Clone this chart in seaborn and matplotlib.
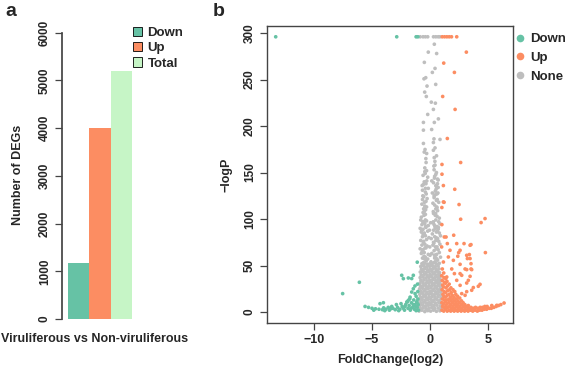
import numpy as np
import pandas as pd
import matplotlib
matplotlib.use("Agg")
import matplotlib.pyplot as plt
import seaborn as sns
from matplotlib.patches import Patch
from matplotlib.lines import Line2D

sns.set_theme(style="white")
plt.rcParams['font.family'] = ['Liberation Sans', 'DejaVu Sans']
plt.rcParams['font.weight'] = 'bold'

# ---------------- Panel a data ----------------
bar_groups = ["Down", "Up", "Total"]
bar_values = [1180, 4010, 5190]
bar_colors = ["#66C2A5", "#FC8D62", "#C6F5C6"]
a_yticks = [0, 1000, 2000, 3000, 4000, 5000, 6000]

# ---------------- Panel b data ----------------
# Down (green)
down_x = [-13.3, -2.87, -1.2, -1.05,
          -7.53, -6.09, -2.44, -2.3, -1.87, -1.58, -1.44, -1.1,
          -1.44, -1.58, -1.29, -1.72, -1.87, -2.0, -4.31, -4.02,
          -5.6, -5.3, -5.0, -4.7, -4.4, -4.1, -3.8, -3.5, -3.2, -3.0,
          -2.8, -2.6, -2.4, -2.2, -2.1, -1.9, -1.8, -1.7, -1.6, -1.5,
          -1.4, -1.35, -1.3, -1.2, -1.2, -1.15, -1.1, -1.05, -1.05, -1.02,
          -1.0, -2.9, -3.3, -3.6, -4.0, -2.5, -1.95, -1.75, -1.3, -4.85,
          -3.9, -3.4, -2.7, -2.3, -1.65, -1.25, -1.12, -1.45, -1.08, -2.15]
down_y = [296, 296, 296, 296,
          19.8, 32, 39.5, 35.9, 36.6, 36, 39.5, 53.6,
          25, 21.5, 19.8, 16, 12.6, 10.8, 9, 10,
          6, 5, 4, 3.5, 3, 2.5, 3, 2, 4, 2.5,
          5, 3, 6, 2, 8, 4, 7, 2, 10, 5,
          13, 3, 8, 17, 1.5, 11, 5, 22, 14, 8,
          2, 8, 6, 5, 4.5, 9, 11, 14, 28, 2,
          1.5, 3.5, 1.5, 4, 4, 6, 10, 8, 30, 6]

# Up (orange)
up_x = [1.05, 1.25, 1.45, 1.65, 1.85, 2.3,
        3.13, 1.18, 2.1, 1.09, 2.16, 1.49, 1.03, 2.64, 1.03, 1.15, 2.13,
        1.15, 2.5, 1.02, 1.21, 1.02, 2.64, 4.74, 4.4, 1.23, 2.04, 1.38,
        1.49, 2.3, 2.93, 3.45, 3.53, 1.0, 1.72, 2.59, 3.16, 3.45, 4.77,
        2.47, 3.39, 1.58, 2.39, 3.22, 2.59, 3.53, 1.15, 2.01, 1.06, 1.87,
        3.02, 3.53, 3.16, 3.59, 2.1, 2.73, 3.45, 2.59, 1.44, 2.3, 3.3,
        3.16, 4.31, 2.59, 3.73, 4.16, 3.59, 3.16, 2.73, 3.02,
        # dense bottom block and tail
        1.03, 1.08, 1.02, 1.06, 1.11, 1.04, 1.09, 1.05, 1.01,
        1.18, 1.22, 1.16, 1.24, 1.19, 1.21, 1.17, 1.23, 1.2, 1.18,
        1.33, 1.37, 1.31, 1.36, 1.34, 1.38, 1.32, 1.35,
        1.48, 1.52, 1.47, 1.51, 1.49, 1.53, 1.5, 1.46,
        1.63, 1.67, 1.62, 1.66, 1.64, 1.68, 1.65,
        1.78, 1.82, 1.79, 1.81, 1.77, 1.83, 1.8,
        1.93, 1.97, 1.94, 1.96, 1.92, 1.98,
        2.08, 2.12, 2.09, 2.11, 2.07, 2.13,
        2.23, 2.27, 2.24, 2.26, 2.22,
        2.38, 2.42, 2.39, 2.41, 2.37,
        2.53, 2.57, 2.54, 2.56,
        2.68, 2.72, 2.69, 2.71,
        2.83, 2.87, 2.85,
        2.98, 3.02, 3.0,
        3.13, 3.17,
        3.28, 3.32, 3.3,
        3.48, 3.52,
        3.68, 3.72,
        3.88, 3.92,
        4.08, 4.12,
        4.28, 4.32,
        4.48, 4.52,
        4.68, 4.72,
        4.88, 4.92,
        5.1, 5.28, 5.32, 5.5, 5.7, 5.9, 6.1, 6.38, 5.75]
up_y = [296, 296, 296, 296, 296, 296,
        279.5, 267.7, 257.7, 231.8, 217.9, 186.6, 158.7, 160.8, 148.2, 136, 132,
        118.4, 115.6, 112.4, 118, 94, 99.8, 100.5, 96.2, 80.7, 82.6, 80.7,
        73.6, 73.6, 73.6, 71.8, 72.5, 70, 66.4, 66.4, 61, 57.5, 63.9,
        63.9, 61.8, 59.2, 60, 57.5, 51.3, 52, 53.8, 55.6, 46.3, 46.3,
        46.3, 46.3, 45.6, 45.6, 41.3, 39.5, 38.4, 41.3, 37.7, 34.1, 34.1,
        31.2, 29.8, 28.7, 26.3, 27.7, 23.4, 21.9, 19.8, 18,
        # dense bottom block and tail
        2, 6, 10, 14, 19, 24, 29, 34, 39,
        1, 5, 9, 13, 17, 22, 27, 32, 37, 42,
        3, 7, 11, 16, 21, 26, 31, 36,
        1, 5, 9, 13, 18, 23, 28, 33,
        2, 6, 10, 14, 19, 24, 30,
        1, 4, 8, 12, 16, 21, 26,
        2, 6, 10, 14, 18, 24,
        1, 4, 8, 12, 16, 22,
        2, 6, 10, 14, 19,
        1, 4, 8, 12, 17,
        2, 6, 10, 15,
        1, 4, 8, 12,
        2, 6, 10,
        1, 4, 8,
        2, 6,
        1, 4, 7,
        2, 5,
        1, 4,
        2, 5,
        1, 4,
        2, 5,
        2, 5,
        3, 6,
        3, 6,
        4, 4, 7, 5, 6, 7, 8, 9.7, 7.2]

# None (gray) – sparse upper column
none_top_x = [-0.85, -0.6, -0.4, -0.2, 0.3, 0.5, 0.7, 0.85,
              0.37, -0.15, 0.57, -0.49, 0.43, 0.2, -0.52, -0.37, 0.49, -0.26,
              -0.46, -0.32, 0.11, 0.46, 0.29, -0.2, 0.72, -0.57, 0.37, -0.57,
              0.14, 0.34, 0.29, 0.86, -0.57, -0.43, -0.29, 0.29, 0.43, -0.34, 0.43]
none_top_y = [296, 296, 296, 296, 296, 296, 296, 296,
              288, 279.5, 278, 268.5, 262, 257.7, 250.8, 252, 244.8, 243,
              236.5, 231.8, 225.7, 224.6, 217.9, 212.5, 207.7, 203.9, 203.9, 195.6,
              196.3, 186.2, 182.3, 185.6, 181.3, 174.8, 170.5, 174, 176.5, 160.8, 158]
# None – middle band (100-160)
none_mid_x = [-0.45, -0.3, 0.35, 0.55, -0.6, -0.2, 0.4, 0.65, -0.5, -0.35,
              0.3, 0.5, 0.7, -0.65, -0.4, 0.45, 0.6, -0.55, -0.25, 0.35,
              0.55, 0.75, -0.7, -0.45, -0.3, 0.4, 0.5, 0.65, -0.6, -0.4,
              0.3, 0.45, 0.6, 0.8, -0.75, -0.5, -0.35, 0.35, 0.55, 0.7,
              -0.15, 0.2, -0.55, 0.25, 0.5, -0.65, 0.15, 0.6,
              -0.42, 0.38, -0.58, 0.52, -0.33, 0.44, -0.48, 0.62, -0.38, 0.28,
              -0.52, 0.48, -0.62, 0.58, -0.28, 0.33, -0.45, 0.42, -0.68, 0.68,
              -0.36, 0.56, -0.5, 0.36, -0.4, 0.64]
none_mid_y = [155, 152, 153, 150, 147, 145, 146, 143, 140, 138,
              139, 136, 134, 131, 129, 130, 127, 124, 122, 123,
              120, 118, 116, 114, 113, 115, 111, 109, 107, 105,
              106, 104, 103, 101, 102, 108, 119, 125, 135, 142,
              133, 128, 111, 117, 148, 121, 141, 112,
              149, 144, 137, 132, 127, 126, 118, 121, 110, 108,
              104, 106, 125, 113, 141, 157, 151, 162, 136, 128,
              165, 168, 172, 166, 133, 138]
# None – lower band (50-100)
none_low_x = [-0.8, -0.55, -0.3, 0.25, 0.5, 0.75, -0.7, -0.45, -0.15, 0.35,
              0.6, 0.85, -0.85, -0.6, -0.35, 0.3, 0.45, 0.7, -0.75, -0.5,
              -0.2, 0.2, 0.55, 0.8, -0.65, -0.4, -0.1, 0.4, 0.65, 0.9,
              -0.8, -0.55, -0.3, 0.3, 0.5, 0.75, -0.7, -0.45, -0.25, 0.25,
              0.6, 0.85, -0.85, -0.6, -0.35, 0.35, 0.55, 0.7, -0.75, -0.5,
              -0.15, 0.15, 0.45, 0.8, -0.65, -0.4, -0.2, 0.4, 0.65, 0.9,
              0.05, -0.05, 0.1, -0.02, 0.0, 0.08,
              -0.62, -0.38, 0.42, 0.62, -0.48, 0.52, -0.58, 0.33, -0.43, 0.47,
              -0.68, 0.57, -0.52, 0.38, -0.33, 0.63, -0.57, 0.43, -0.47, 0.53,
              -0.72, 0.72, -0.4, 0.28, -0.6, 0.58]
none_low_y = [99, 97, 98, 96, 99, 97, 94, 95, 93, 94,
              92, 95, 90, 89, 91, 88, 90, 89, 86, 85,
              87, 84, 86, 85, 81, 82, 80, 81, 79, 82,
              77, 76, 78, 75, 77, 76, 72, 73, 71, 72,
              70, 73, 68, 67, 69, 66, 68, 67, 63, 64,
              62, 63, 61, 64, 58, 59, 57, 58, 56, 59,
              96, 88, 79, 70, 61, 54,
              97, 92, 92, 87, 83, 80, 75, 74, 69, 70,
              65, 62, 60, 61, 55, 56, 53, 54, 57, 58,
              88, 91, 99, 97, 84, 79]
# None – dense base (0-52)
none_base_x = [-0.95, -0.7, -0.45, -0.2, 0.05, 0.3, 0.55, 0.85,
               -0.85, -0.6, -0.35, -0.1, 0.15, 0.4, 0.7, 0.95,
               -0.9, -0.65, -0.4, -0.15, 0.1, 0.35, 0.6, 0.9,
               -0.8, -0.55, -0.3, -0.05, 0.2, 0.45, 0.75, 0.92,
               -0.93, -0.68, -0.42, -0.18, 0.07, 0.32, 0.58, 0.82,
               -0.83, -0.58, -0.33, -0.08, 0.17, 0.42, 0.68, 0.94,
               -0.88, -0.62, -0.38, -0.12, 0.12, 0.38, 0.62, 0.88,
               -0.78, -0.52, -0.28, -0.02, 0.22, 0.48, 0.72, 0.91,
               -0.9, -0.66, -0.41, -0.16, 0.09, 0.34, 0.59, 0.84,
               -0.82, -0.57, -0.32, -0.07, 0.18, 0.43, 0.67, 0.9,
               -0.87, -0.61, -0.36, -0.11, 0.14, 0.39, 0.64, 0.86,
               -0.79, -0.53, -0.27, -0.03, 0.23, 0.49, 0.73, 0.88,
               -0.85, -0.6, -0.35, -0.1, 0.15, 0.4, 0.65, 0.83,
               -0.76, -0.5, -0.25, 0.0, 0.25, 0.5, 0.74, 0.87,
               -0.84, -0.58, -0.33, -0.08, 0.17, 0.42, 0.66, 0.82,
               -0.74, -0.48, -0.22, 0.03, 0.28, 0.53, 0.77,
               -0.8, -0.55, -0.3, -0.05, 0.2, 0.45, 0.7,
               -0.7, -0.45, -0.2, 0.05, 0.3, 0.55, 0.8]
none_base_y = [1, 2, 0.5, 1.5, 1, 2, 0.8, 1.3,
               4, 4.5, 3.5, 4, 4.8, 3.8, 4.2, 3.6,
               7, 7.5, 6.5, 7.2, 7.8, 6.8, 7.4, 6.6,
               10, 10.5, 9.6, 10.2, 10.8, 9.8, 10.4, 9.4,
               13, 13.6, 12.6, 13.2, 13.8, 12.8, 13.4, 12.4,
               16, 16.5, 15.5, 16.2, 16.8, 15.8, 16.4, 15.4,
               19, 19.6, 18.6, 19.2, 19.8, 18.8, 19.4, 18.4,
               22, 22.5, 21.5, 22.2, 22.8, 21.8, 22.4, 21.4,
               25, 25.6, 24.6, 25.2, 25.8, 24.8, 25.4, 24.4,
               28, 28.5, 27.5, 28.2, 28.8, 27.8, 28.4, 27.4,
               31, 31.6, 30.6, 31.2, 31.8, 30.8, 31.4, 30.4,
               34, 34.5, 33.5, 34.2, 34.8, 33.8, 34.4, 33.4,
               37, 37.6, 36.6, 37.2, 37.8, 36.8, 37.4, 36.4,
               40, 40.5, 39.5, 40.2, 40.8, 39.8, 40.4, 39.4,
               43, 43.6, 42.6, 43.2, 43.8, 42.8, 43.4, 42.4,
               46, 46.5, 45.5, 46.2, 46.8, 45.8, 46.4,
               49, 49.6, 48.6, 49.2, 49.8, 48.8, 49.4,
               52, 52.5, 51.5, 52.2, 52.8, 51.8, 52.4]

b_xticks = [-10, -5, 0, 5]
b_yticks = [0, 50, 100, 150, 200, 250, 300]
group_colors = {"Down": "#66C2A5", "Up": "#FC8D62", "None": "#BEBEBE"}

# ---------------- Build figure ----------------
W, H = 567, 371
fig = plt.figure(figsize=(W / 100, H / 100), dpi=100)

def px_axes(l, t, r, b):
    return fig.add_axes([l / W, 1 - b / H, (r - l) / W, (b - t) / H])

axis_col = "#444444"

# Panel a
ax1 = px_axes(62, 26, 195, 323)
dfa = pd.DataFrame({"group": bar_groups, "value": bar_values})
sns.barplot(data=dfa, x="group", y="value", hue="group", palette=bar_colors,
            width=1.0, legend=False, ax=ax1, saturation=1)
for p in ax1.patches:
    p.set_linewidth(0)
ax1.set_xlim(-0.78, 5.455)
ax1.set_ylim(-84, 6140)
for s in ["top", "right", "bottom"]:
    ax1.spines[s].set_visible(False)
ax1.spines["left"].set_bounds(0, 6000)
ax1.spines["left"].set_color(axis_col)
ax1.set_yticks(a_yticks)
ax1.set_yticklabels([str(v) for v in a_yticks], rotation=90, va="center",
                    fontsize=8.5, fontweight="bold")
ax1.tick_params(axis="y", length=5, width=0.9, color=axis_col, pad=3, left=True)
ax1.set_xticks([])
ax1.set_xlabel("")
ax1.set_ylabel("Number of DEGs", fontsize=9, fontweight="bold")
ax1.yaxis.set_label_coords(-0.285, 0.5)
fig.text(95 / W, 1 - 339 / H, "Viruliferous vs Non-viruliferous", ha="center",
         va="center", fontsize=9, fontweight="bold")
handles_a = [Patch(facecolor=c, edgecolor="black", linewidth=0.6, label=g)
             for g, c in zip(bar_groups, bar_colors)]
fig.legend(handles=handles_a, loc="upper left", bbox_to_anchor=(133 / W, 1 - 27 / H),
           frameon=False, handlelength=0.7, handleheight=0.7, handletextpad=0.4,
           labelspacing=0.22, borderpad=0, borderaxespad=0,
           prop={"size": 9.5, "weight": "bold"})

# Panel b
ax2 = px_axes(267, 26, 513, 323)
dfb = pd.concat([
    pd.DataFrame({"fc": none_base_x, "lp": none_base_y, "group": "None"}),
    pd.DataFrame({"fc": none_low_x, "lp": none_low_y, "group": "None"}),
    pd.DataFrame({"fc": none_mid_x, "lp": none_mid_y, "group": "None"}),
    pd.DataFrame({"fc": none_top_x, "lp": none_top_y, "group": "None"}),
    pd.DataFrame({"fc": up_x, "lp": up_y, "group": "Up"}),
    pd.DataFrame({"fc": down_x, "lp": down_y, "group": "Down"}),
], ignore_index=True)
sns.scatterplot(data=dfb, x="fc", y="lp", hue="group", palette=group_colors,
                s=7, linewidth=0, legend=False, ax=ax2)
ax2.set_xlim(-14.05, 7.15)
ax2.set_ylim(-11.8, 307.6)
for s in ax2.spines.values():
    s.set_color(axis_col)
    s.set_linewidth(1.0)
ax2.set_xticks(b_xticks)
ax2.set_xticklabels([f"\u2212{abs(v)}" if v < 0 else str(v) for v in b_xticks],
                    fontsize=9, fontweight="bold")
ax2.set_yticks(b_yticks)
ax2.set_yticklabels([str(v) for v in b_yticks], rotation=90, va="center",
                    fontsize=8.5, fontweight="bold")
ax2.tick_params(axis="both", length=5, width=0.9, color=axis_col, pad=3,
                left=True, bottom=True)
ax2.set_xlabel("FoldChange(log2)", fontsize=9, fontweight="bold", labelpad=6)
ax2.set_ylabel("\u2212logP", fontsize=9, fontweight="bold", labelpad=8)
handles_b = [Line2D([0], [0], marker="o", linestyle="", markersize=5.5,
                    markerfacecolor=group_colors[g], markeredgewidth=0, label=g)
             for g in ["Down", "Up", "None"]]
fig.legend(handles=handles_b, loc="upper left", bbox_to_anchor=(513 / W, 1 - 33 / H),
           frameon=False, handlelength=1.0, handletextpad=0.3,
           labelspacing=0.5, borderpad=0, borderaxespad=0,
           prop={"size": 9.5, "weight": "bold"})

fig.text(5 / W, 1 - 11 / H, "a", fontsize=14, fontweight="bold", va="center")
fig.text(213 / W, 1 - 11 / H, "b", fontsize=14, fontweight="bold", va="center")

fig.savefig("out.png", dpi=100)
